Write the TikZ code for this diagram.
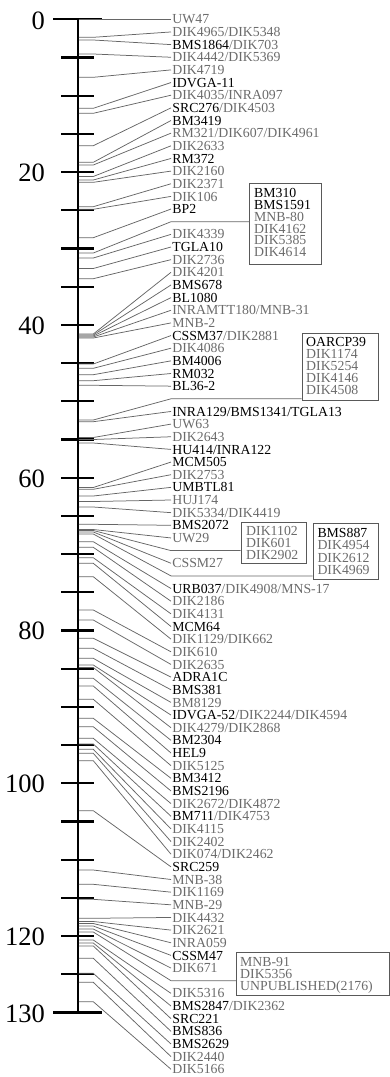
\documentclass[tikz,border=0pt]{standalone}
\usepackage{fontspec}
\setmainfont{Liberation Serif}
\definecolor{labgray}{gray}{0.42}
\definecolor{conngray}{gray}{0.40}
\definecolor{boxgray}{gray}{0.35}
\newcommand\mgr[1]{\textcolor{labgray}{#1}}
% marker with text label: index, tick y, text
\newcommand\mk[3]{%
  \coordinate (a#1) at (78.8,#2);
  \coordinate (b#1) at (93.3,#2);
  \node[lab] (n#1) at (171,{19.3+#1*12.65}) {#3};
  \draw[conn] (a#1) -- (b#1) -- (n#1.west);}
% marker leading to a box: index, tick y, box name
\newcommand\mb[3]{%
  \coordinate (a#1) at (78.8,#2);
  \coordinate (b#1) at (93.3,#2);
  \coordinate (c#1) at (171,{19.3+#1*12.65});
  \draw[conn] (a#1) -- (b#1) -- (c#1) -- (#3.west |- c#1);}
\begin{document}
\begin{tikzpicture}[x=1pt,y=-1pt,
  lab/.style={anchor=west, inner xsep=1.2pt, inner ysep=0pt, font=\fontsize{13.8}{14}\selectfont, text height=9.2pt, text depth=0pt},
  conn/.style={draw=conngray, line width=0.75pt},
  tickln/.style={line width=2.3pt, black},
  boxframe/.style={draw=boxgray, line width=0.9pt, inner sep=0pt, anchor=north west},
  boxtext/.style={anchor=north west, inner sep=0pt, align=left, font=\fontsize{13.8}{11.9}\selectfont},
  num/.style={anchor=east, inner sep=0pt, font=\fontsize{26.5}{28}\selectfont, text height=17.9pt, text depth=0pt}]
\useasboundingbox (0,0) rectangle (390,1077);
% axis and scale
\draw[tickln] (77.7,19.3) -- (77.7,1012.5);
\draw[tickln] (53,19.3) -- (101.7,19.3);
\draw[tickln] (53,1012.5) -- (101.7,1012.5);
\foreach \k in {1,...,25} \draw[tickln] (61,{19.3+\k*38.2}) -- (94.3,{19.3+\k*38.2});
\node[num] (t0) at (45,20.3) {0};
\node[num] (t20) at (45,{19.3+4*38.2+0.5}) {20};
\node[num] (t40) at (45,{19.3+8*38.2+0.5}) {40};
\node[num] (t60) at (45,{19.3+12*38.2+0.5}) {60};
\node[num] (t80) at (45,{19.3+16*38.2+0.5}) {80};
\node[num] (t100) at (45,{19.3+20*38.2+0.5}) {100};
\node[num] (t120) at (45,{19.3+24*38.2+0.5}) {120};
\node[num] (t130) at (45,1013.5) {130};
% boxes
\node[boxframe, minimum width=71.7pt, minimum height=80.7pt] (B1) at (249.3,183.3) {};
\node[boxtext] (B1t) at (254,188) {BM310\\BMS1591\\\mgr{MNB-80}\\\mgr{DIK4162}\\\mgr{DIK5385}\\\mgr{DIK4614}};
\node[boxframe, minimum width=76pt, minimum height=66.7pt] (B2) at (301.7,333.3) {};
\node[boxtext] (B2t) at (306,337.6) {OARCP39\\\mgr{DIK1174}\\\mgr{DIK5254}\\\mgr{DIK4146}\\\mgr{DIK4508}};
\node[boxframe, minimum width=65.3pt, minimum height=41.6pt] (B3) at (240.7,521.7) {};
\node[boxtext, font=\fontsize{13.8}{12}\selectfont] (B3t) at (246,526.3) {\mgr{DIK1102}\\\mgr{DIK601}\\\mgr{DIK2902}};
\node[boxframe, minimum width=65.6pt, minimum height=56pt] (B4) at (312.7,523.3) {};
\node[boxtext, font=\fontsize{13.8}{12.4}\selectfont] (B4t) at (317.3,528) {BMS887\\\mgr{DIK4954}\\\mgr{DIK2612}\\\mgr{DIK4969}};
\node[boxframe, minimum width=153.3pt, minimum height=43.3pt] (B5) at (236,951.7) {};
\node[boxtext, font=\fontsize{13.8}{12}\selectfont] (B5t) at (240,957) {\mgr{MNB-91}\\\mgr{DIK5356}\\\mgr{UNPUBLISHED(2176)}};
% markers
\mk{0}{19.3}{\mgr{UW47}}
\mk{1}{37.3}{\mgr{DIK4965/DIK5348}}
\mk{2}{40}{BMS1864\mgr{/DIK703}}
\mk{3}{54}{\mgr{DIK4442/DIK5369}}
\mk{4}{77.3}{\mgr{DIK4719}}
\mk{5}{108.3}{IDVGA-11}
\mk{6}{113.3}{\mgr{DIK4035/INRA097}}
\mk{7}{145.7}{SRC276\mgr{/DIK4503}}
\mk{8}{162.3}{BM3419}
\mk{9}{165}{\mgr{RM321/DIK607/DIK4961}}
\mk{10}{176.5}{\mgr{DIK2633}}
\mk{11}{180}{RM372}
\mk{12}{182.3}{\mgr{DIK2160}}
\mk{13}{206.7}{\mgr{DIK2371}}
\mk{14}{209.3}{\mgr{DIK106}}
\mk{15}{237.7}{BP2}
\mb{16}{253}{B1}
\mk{17}{258}{\mgr{DIK4339}}
\mk{18}{268.5}{TGLA10}
\mk{19}{278.7}{\mgr{DIK2736}}
\mk{20}{334}{\mgr{DIK4201}}
\mk{21}{335}{BMS678}
\mk{22}{336}{BL1080}
\mk{23}{337}{\mgr{INRAMTT180/MNB-31}}
\mk{24}{338}{\mgr{MNB-2}}
\mk{25}{364}{CSSM37\mgr{/DIK2881}}
\mk{26}{368.3}{\mgr{DIK4086}}
\mk{27}{374.7}{BM4006}
\mk{28}{380.7}{RM032}
\mk{29}{385.3}{BL36-2}
\mb{30}{420}{B2}
\mk{31}{421.7}{INRA129/BMS1341/TGLA13}
\mk{32}{437.5}{\mgr{UW63}}
\mk{33}{439.5}{\mgr{DIK2643}}
\mk{34}{443}{HU414/INRA122}
\mk{35}{487.5}{MCM505}
\mk{36}{489.3}{\mgr{DIK2753}}
\mk{37}{496}{UMBTL81}
\mk{38}{501.5}{\mgr{HUJ174}}
\mk{39}{507}{\mgr{DIK5334/DIK4419}}
\mk{40}{524.3}{BMS2072}
\mk{41}{529.5}{\mgr{UW29}}
\mb{42}{530.5}{B3}
\mk{43}{532}{\mgr{CSSM27}}
\mb{44}{534}{B4}
\mk{45}{541.7}{URB037\mgr{/DIK4908/MNS-17}}
\mk{46}{547.3}{\mgr{DIK2186}}
\mk{47}{557.7}{\mgr{DIK4131}}
\mk{48}{563.3}{MCM64}
\mk{49}{576.7}{\mgr{DIK1129/DIK662}}
\mk{50}{610}{\mgr{DIK610}}
\mk{51}{620}{\mgr{DIK2635}}
\mk{52}{638.3}{ADRA1C}
\mk{53}{648.3}{BMS381}
\mk{54}{658.3}{\mgr{BM8129}}
\mk{55}{665}{IDVGA-52\mgr{/DIK2244/DIK4594}}
\mk{56}{667.5}{\mgr{DIK4279/DIK2868}}
\mk{57}{678.3}{BM2304}
\mk{58}{686}{HEL9}
\mk{59}{699.3}{\mgr{DIK5125}}
\mk{60}{718.3}{BM3412}
\mk{61}{726.7}{BMS2196}
\mk{62}{738.3}{\mgr{DIK2672/DIK4872}}
\mk{63}{744}{BM711\mgr{/DIK4753}}
\mk{64}{749.3}{\mgr{DIK4115}}
\mk{65}{753.3}{\mgr{DIK2402}}
\mk{66}{760.7}{\mgr{DIK074/DIK2462}}
\mk{67}{810.7}{SRC259}
\mk{68}{870}{\mgr{MNB-38}}
\mk{69}{884.3}{\mgr{DIK1169}}
\mk{70}{899.3}{\mgr{MNB-29}}
\mk{71}{918.3}{\mgr{DIK4432}}
\mk{72}{921.5}{\mgr{DIK2621}}
\mk{73}{923.5}{\mgr{INRA059}}
\mk{74}{926}{CSSM47}
\mk{75}{929}{\mgr{DIK671}}
\mb{76}{932}{B5}
\mk{77}{940}{\mgr{DIK5316}}
\mk{78}{943}{BMS2847\mgr{/DIK2362}}
\mk{79}{946}{SRC221}
\mk{80}{958.3}{BMS836}
\mk{81}{973.3}{BMS2629}
\mk{82}{982.3}{\mgr{DIK2440}}
\mk{83}{1001.7}{\mgr{DIK5166}}
\end{tikzpicture}
\end{document}
